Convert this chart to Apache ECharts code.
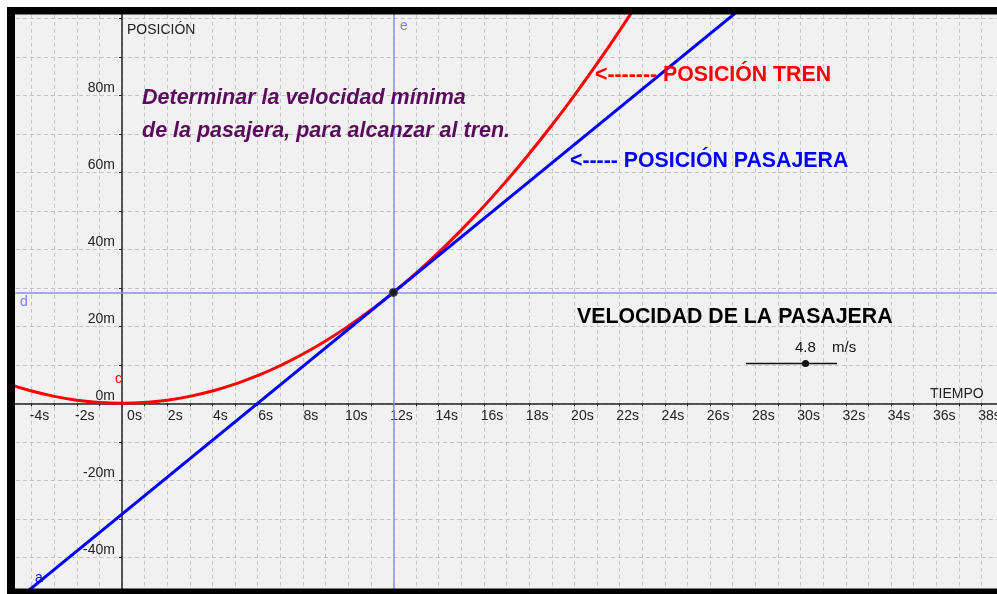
<!DOCTYPE html>
<html>
<head>
<meta charset="utf-8">
<script src="https://cdn.jsdelivr.net/npm/echarts@6/dist/echarts.min.js"></script>
<style>
  html, body { margin: 0; padding: 0; background: #fff; }
  #chart { width: 997px; height: 594px; }
</style>
</head>
<body>
<div id="chart"></div>
<script>
// posición del tren (m), cada segundo
var trainTimes = [-5, -4, -3, -2, -1, 0, 1, 2, 3, 4, 5, 6, 7, 8, 9, 10, 11, 12, 13, 14, 15, 16, 17, 18, 19, 20, 21, 22, 23];
var trainPos = [5.0, 3.2, 1.8, 0.8, 0.2, 0, 0.2, 0.8, 1.8, 3.2, 5.0, 7.2, 9.8, 12.8, 16.2, 20.0, 24.2, 28.8, 33.8, 39.2, 45.0, 51.2, 57.8, 64.8, 72.2, 80.0, 88.2, 96.8, 105.8];

// posición de la pasajera (recta)
var passengerTimes = [-5, 28];
var passengerPos = [-52.8, 105.6];

// punto de encuentro y velocidad del deslizador
var meetTime = 12;
var meetPos = 28.8;
var passengerSpeed = 4.8;

var FONT = '"Liberation Sans", Arial, sans-serif';

var chart = echarts.init(document.getElementById('chart'), null, { renderer: 'canvas' });

function zip(xs, ys) {
  return xs.map(function (x, i) { return [x, ys[i]]; });
}

// escala: 22.62 px/s, 3.85 px/m ; origen en (122, 403.3)
var pxS = 22.62, pxM = 3.85, ox = 122, oy = 403.3;
var xMin = -5, xMax = 39, yMin = -50, yMax = 110;
var gLeft = ox + xMin * pxS;
var gTop = oy - yMax * pxM;
var gWidth = (xMax - xMin) * pxS;
var gHeight = (yMax - yMin) * pxM;

var dash = { type: [4, 3], color: '#c4c4c4', width: 1 };

var option = {
  backgroundColor: '#ffffff',
  animation: false,
  grid: {
    left: gLeft,
    top: gTop,
    width: gWidth,
    height: gHeight,
    outerBoundsMode: 'none',
    containLabel: false,
    show: true,
    backgroundColor: '#f1f1f1',
    borderWidth: 0
  },
  xAxis: {
    type: 'value',
    min: xMin,
    max: xMax,
    interval: 1,
    position: 'bottom',
    offset: -(gTop + gHeight - oy),
    axisLine: { onZero: false, lineStyle: { color: '#222', width: 1.5 } },
    axisTick: { show: true, length: 3, lineStyle: { color: '#222' } },
    splitLine: { show: true, lineStyle: dash },
    axisLabel: {
      margin: 6,
      fontFamily: FONT,
      fontSize: 14,
      color: '#222',
      align: 'center',
      padding: [0, 0, 0, 16],
      formatter: function (v) {
        if (v % 2 !== 0 || v < -4 || v > 38) return '';
        if (v === 0) return '{z|0s}';
        return v + 's';
      },
      rich: {
        z: { fontFamily: FONT, fontSize: 14, color: '#222', padding: [0, 0, 0, 9] }
      }
    }
  },
  yAxis: {
    type: 'value',
    min: yMin,
    max: yMax,
    interval: 10,
    position: 'left',
    offset: -(ox - gLeft),
    axisLine: { onZero: false, lineStyle: { color: '#222', width: 1.5 } },
    axisTick: { show: true, length: 3, lineStyle: { color: '#222' } },
    splitLine: { show: true, lineStyle: dash },
    axisLabel: {
      margin: 7,
      fontFamily: FONT,
      fontSize: 14,
      color: '#222',
      verticalAlign: 'bottom',
      formatter: function (v) {
        if (v % 20 !== 0 || v < -40 || v > 80) return '';
        return v + 'm';
      }
    }
  },
  series: [
    {
      name: 'guias',
      type: 'line',
      data: [],
      z: 1,
      markLine: {
        silent: true,
        symbol: 'none',
        label: { show: false },
        lineStyle: { color: '#8c8cff', width: 1.5, type: 'solid' },
        data: [{ xAxis: meetTime }, { yAxis: meetPos }]
      }
    },
    {
      name: 'POSICIÓN TREN',
      type: 'line',
      data: zip(trainTimes, trainPos),
      smooth: true,
      showSymbol: false,
      z: 2,
      lineStyle: { color: '#ff0000', width: 3 }
    },
    {
      name: 'POSICIÓN PASAJERA',
      type: 'line',
      data: zip(passengerTimes, passengerPos),
      showSymbol: false,
      z: 3,
      lineStyle: { color: '#0000ff', width: 3 }
    },
    {
      name: 'encuentro',
      type: 'scatter',
      data: [[meetTime, meetPos]],
      symbolSize: 8,
      z: 5,
      itemStyle: { color: '#1a1a1a', borderColor: '#444', borderWidth: 1, opacity: 1 }
    }
  ],
  graphic: [
    // marco
    { type: 'rect', z: 100, shape: { x: 0, y: 0, width: 997, height: 7 }, style: { fill: '#fff' } },
    { type: 'rect', z: 100, shape: { x: 0, y: 0, width: 7, height: 594 }, style: { fill: '#fff' } },
    { type: 'rect', z: 101, shape: { x: 7, y: 7, width: 990, height: 7.5 }, style: { fill: '#000' } },
    { type: 'rect', z: 101, shape: { x: 7, y: 7, width: 8, height: 587 }, style: { fill: '#000' } },
    { type: 'rect', z: 101, shape: { x: 7, y: 588.5, width: 990, height: 6 }, style: { fill: '#000' } },

    // nombres de ejes
    { type: 'text', z: 50, style: { text: 'POSICIÓN', x: 127, y: 30, font: '14px ' + FONT, fill: '#222', verticalAlign: 'middle', textVerticalAlign: 'middle' } },
    { type: 'text', z: 50, style: { text: 'TIEMPO', x: 930, y: 394.5, font: '14px ' + FONT, fill: '#222', verticalAlign: 'middle', textVerticalAlign: 'middle' } },

    // rótulos de objetos
    { type: 'text', z: 50, style: { text: 'e', x: 400, y: 26, font: '14px ' + FONT, fill: '#8080ff', verticalAlign: 'middle', textVerticalAlign: 'middle' } },
    { type: 'text', z: 50, style: { text: 'd', x: 20, y: 302.5, font: '14px ' + FONT, fill: '#8080ff', verticalAlign: 'middle', textVerticalAlign: 'middle' } },
    { type: 'text', z: 50, style: { text: 'c', x: 115, y: 379, font: '14px ' + FONT, fill: '#ff0000', verticalAlign: 'middle', textVerticalAlign: 'middle' } },
    { type: 'text', z: 50, style: { text: 'a', x: 35, y: 578, font: '14px ' + FONT, fill: '#0000ff', verticalAlign: 'middle', textVerticalAlign: 'middle' } },

    // enunciado
    { type: 'text', z: 50, style: { text: 'Determinar la velocidad mínima', x: 142, y: 98, font: 'italic bold 21.5px ' + FONT, fill: '#5a0a5c', verticalAlign: 'middle', textVerticalAlign: 'middle' } },
    { type: 'text', z: 50, style: { text: 'de la pasajera, para alcanzar al tren.', x: 142, y: 131, font: 'italic bold 21.5px ' + FONT, fill: '#5a0a5c', verticalAlign: 'middle', textVerticalAlign: 'middle' } },

    { type: 'text', z: 50, style: { text: '<------- POSICIÓN TREN', x: 595, y: 75, font: 'bold 21.3px ' + FONT, fill: '#ff0000', verticalAlign: 'middle', textVerticalAlign: 'middle' } },
    { type: 'text', z: 50, style: { text: '<----- POSICIÓN PASAJERA', x: 570, y: 161.5, font: 'bold 21.3px ' + FONT, fill: '#0000ff', verticalAlign: 'middle', textVerticalAlign: 'middle' } },
    { type: 'text', z: 50, style: { text: 'VELOCIDAD DE LA PASAJERA', x: 577, y: 317, font: 'bold 21.3px ' + FONT, fill: '#000', verticalAlign: 'middle', textVerticalAlign: 'middle' } },

    // deslizador
    { type: 'text', z: 50, style: { text: String(passengerSpeed), x: 795, y: 348, font: '15px ' + FONT, fill: '#111', verticalAlign: 'middle', textVerticalAlign: 'middle' } },
    { type: 'text', z: 50, style: { text: 'm/s', x: 832, y: 348, font: '15px ' + FONT, fill: '#111', verticalAlign: 'middle', textVerticalAlign: 'middle' } },
    { type: 'line', z: 50, shape: { x1: 746, y1: 363.5, x2: 837, y2: 363.5 }, style: { stroke: '#111', lineWidth: 1.3 } },
    { type: 'circle', z: 51, shape: { cx: 805.5, cy: 363.5, r: 3.5 }, style: { fill: '#111' } }
  ]
};

chart.setOption(option);
</script>
</body>
</html>
